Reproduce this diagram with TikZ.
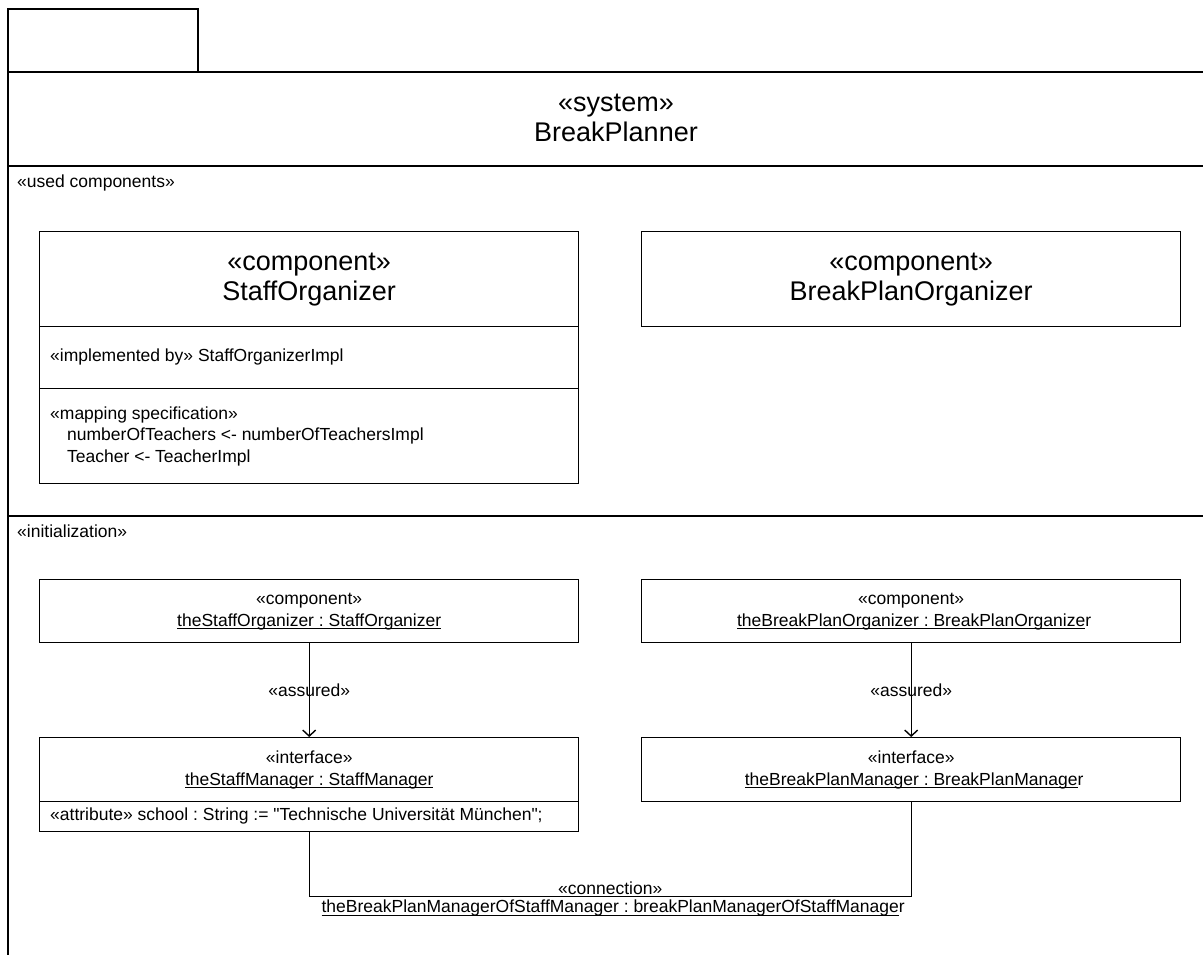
\documentclass[tikz,border=0pt]{standalone}
\usepackage{amsmath}
\usepackage{fontspec}
\setmainfont{Liberation Sans}[Ligatures=TeXOff]
\usetikzlibrary{positioning,arrows.meta}
\frenchspacing
\tikzstyle{umlDiagram} = [x = 1pt, y = -1pt]
\tikzstyle{frameLine} = [color=black, line width=1.4pt]
\tikzstyle{boxStyle} = [draw=black, line width=1.4pt, fill=white, inner sep=0pt, anchor=north west]
\tikzstyle{smallText} = [font=\fontsize{17.5}{22}\selectfont, inner sep=0pt, align=center]
\tikzstyle{bigText} = [font=\fontsize{27}{30}\selectfont, inner sep=0pt, align=center]
\tikzstyle{leftText} = [font=\fontsize{17.5}{21.5}\selectfont, inner sep=0pt, anchor=west, align=left]
\tikzstyle{assuredArrow} = [line width=1.4pt, -{Straight Barb[length=6pt, width=13pt, line width=1.4pt]}]
\tikzstyle{connectionLine} = [line width=1.4pt]
\newcommand{\objName}[1]{\underline{\smash[b]{#1}}}
\newcommand{\umlBox}[5]{\node [boxStyle, minimum width=#4pt, minimum height=#5pt] (#1) at (#2,#3) {};}
\begin{document}
\begin{tikzpicture}[umlDiagram]
  \useasboundingbox (0,0) rectangle (1203,954);
  \clip (0,0) rectangle (1203,954);
  \fill [white] (0,0) rectangle (1203,954);
  % frame with name tab
  \draw [frameLine] (8,72) -- (8,9) -- (198,9) -- (198,72);
  \draw [frameLine] (8,72) -- (8,960);
  \foreach \lineY in {72,166,516} {
    \draw [frameLine] (8,\lineY) -- (1210,\lineY);
  }
  \node [bigText] (systemTitle) at (616,118) {«system»\\BreakPlanner};

  % used components
  \node [leftText] (usedLabel) at (17,183) {«used components»};
  \umlBox{staffOrganizer}{39}{231}{539}{95}
  \umlBox{staffImpl}{39}{326}{539}{62}
  \umlBox{staffMapping}{39}{388}{539}{95}
  \umlBox{breakPlanOrganizer}{641}{231}{539}{95}
  \node [bigText] (staffOrganizerTitle) at (staffOrganizer.center) {«component»\\StaffOrganizer};
  \node [bigText] (breakPlanOrganizerTitle) at (breakPlanOrganizer.center) {«component»\\BreakPlanOrganizer};
  \node [leftText] (staffImplText) at (50,357) {«implemented by» StaffOrganizerImpl};
  \node [leftText] (staffMappingText) at (50,436) {«mapping specification»\\\hspace*{17pt}numberOfTeachers <- numberOfTeachersImpl\\\hspace*{17pt}Teacher <- TeacherImpl};

  % initialization
  \node [leftText] (initLabel) at (17,531) {«initialization»};
  \umlBox{staffObj}{39}{579}{539}{63}
  \umlBox{breakPlanObj}{641}{579}{539}{63}
  \umlBox{staffManager}{39}{737}{539}{64}
  \umlBox{staffAttr}{39}{801}{539}{30}
  \umlBox{breakPlanManager}{641}{737}{539}{64}
  \node [smallText] (staffObjText) at (staffObj.center) {«component»\\\objName{theStaffOrganizer : StaffOrganizer}};
  \node [smallText] (breakPlanObjText) at (breakPlanObj.center) {«component»\\\objName{theBreakPlanOrganizer : BreakPlanOrganize}\rlap{r}};
  \node [smallText] (staffManagerText) at (staffManager.center) {«interface»\\\objName{theStaffManager : StaffManager}};
  \node [smallText] (breakPlanManagerText) at (breakPlanManager.center) {«interface»\\\objName{theBreakPlanManager : BreakPlanManage}\rlap{r}};
  \node [leftText] (staffAttrText) at (50,816) {«attribute» school : String := "Technische Universität München";};

  \draw [assuredArrow] (staffObj.south) -- node [smallText] (staffAssured) {«assured»} (staffManager.north);
  \draw [assuredArrow] (breakPlanObj.south) -- node [smallText] (breakPlanAssured) {«assured»} (breakPlanManager.north);

  \path (staffAttr.south) ++(0,64) coordinate (connLeft);
  \path (breakPlanManager.south) ++(0,94) coordinate (connRight);
  \draw [connectionLine] (staffAttr.south) -- (connLeft) -- node [smallText, above=1pt] (connStereo) {«connection»} node [smallText, below=3pt] (connName) {\objName{theBreakPlanManagerOfStaffManager : breakPlanManagerOfStaffManage}\rlap{r}} (connRight) -- (breakPlanManager.south);
\end{tikzpicture}
\end{document}
